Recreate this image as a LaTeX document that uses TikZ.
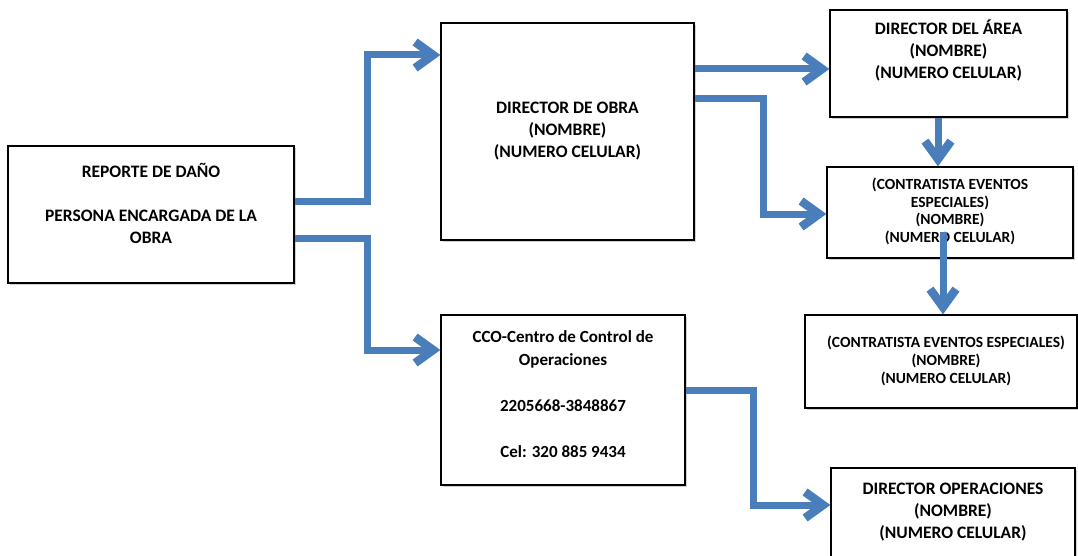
\documentclass[tikz,border=0pt]{standalone}
\usepackage{fontspec}
\setmainfont{Carlito}
\usetikzlibrary{arrows.meta,shadows}
\definecolor{arrblue}{RGB}{74,126,187}
\begin{document}
\begin{tikzpicture}[x=1pt,y=-1pt,
 box/.style={draw=black, line width=1.3pt, fill=white, rectangle, inner sep=0pt,
   drop shadow={shadow xshift=2pt,shadow yshift=-2pt,opacity=0.18,fill=black}},
 lbl/.style={align=center, font=\bfseries\fontsize{17.5}{22}\selectfont, inner sep=0pt},
 lbls/.style={align=center, font=\bfseries\fontsize{15.5}{17.7}\selectfont, inner sep=0pt},
 arr/.style={draw=arrblue, line width=7pt, line join=miter,
   -{Straight Barb[length=18pt,width=26pt,line width=8.5pt]}},
]
\useasboundingbox (0,0) rectangle (1078,556);
\fill[white] (0,0) rectangle (1078,556);
\clip (0,0) rectangle (1078,556);

% boxes
\node[box, minimum width=286pt, minimum height=137pt] (A) at (151,214.5) {};
\node[box, minimum width=253pt, minimum height=217pt] (B) at (567.5,131.5) {};
\node[box, minimum width=237pt, minimum height=107pt] (C) at (948.5,63.5) {};
\node[box, minimum width=246pt, minimum height=91pt] (D) at (950,212.5) {};
\node[box, minimum width=272pt, minimum height=93pt] (E) at (941,361.5) {};
\node[box, minimum width=244pt, minimum height=102pt] (F) at (953,519) {};
\node[box, minimum width=244pt, minimum height=170pt] (G) at (563,400) {};

% texts
\node[lbl] (tA) at (151,203) {REPORTE DE DAÑO\\[22pt]PERSONA ENCARGADA DE LA\\OBRA};
\node[lbl] (tB) at (567.5,131) {DIRECTOR DE OBRA\\(NOMBRE)\\(NUMERO CELULAR)};
\node[lbl] (tC) at (948.5,50) {DIRECTOR DEL ÁREA\\(NOMBRE)\\(NUMERO CELULAR)};
\node[lbls] (tD) at (950,211.5) {(CONTRATISTA EVENTOS\\ESPECIALES)\\(NOMBRE)\\(NUMERO CELULAR)};
\node[lbls] (tE) at (946,361) {(CONTRATISTA EVENTOS ESPECIALES)\\(NOMBRE)\\(NUMERO CELULAR)};
\node[lbl] (tF) at (953,512) {DIRECTOR OPERACIONES\\(NOMBRE)\\(NUMERO CELULAR)};
\node[lbl, font=\bfseries\fontsize{17}{23}\selectfont] (tG) at (563,394)
  {CCO-Centro de Control de\\Operaciones\\[23pt]2205668-3848867\\[23pt]Cel: 320 885 9434};

% connectors
\coordinate (dstart) at (943,232);
\draw[arr] (A.east |- 0,201) -- (367,201) -- (367,55) -- (B.west |- 0,55);
\draw[arr] (A.east |- 0,238) -- (367,238) -- (367,350) -- (G.west |- 0,350);
\draw[arr] (B.east |- 0,69) -- (C.west |- 0,69);
\draw[arr] (B.east |- 0,99) -- (763,99) -- (763,214) -- (D.west |- 0,214);
\draw[arr] (938,0 |- C.south) -- (938,0 |- D.north);
\draw[arr] (dstart) -- (943,0 |- E.north);
\draw[arr] (G.east |- 0,390) -- (753,390) -- (753,505) -- (F.west |- 0,505);
\end{tikzpicture}
\end{document}
